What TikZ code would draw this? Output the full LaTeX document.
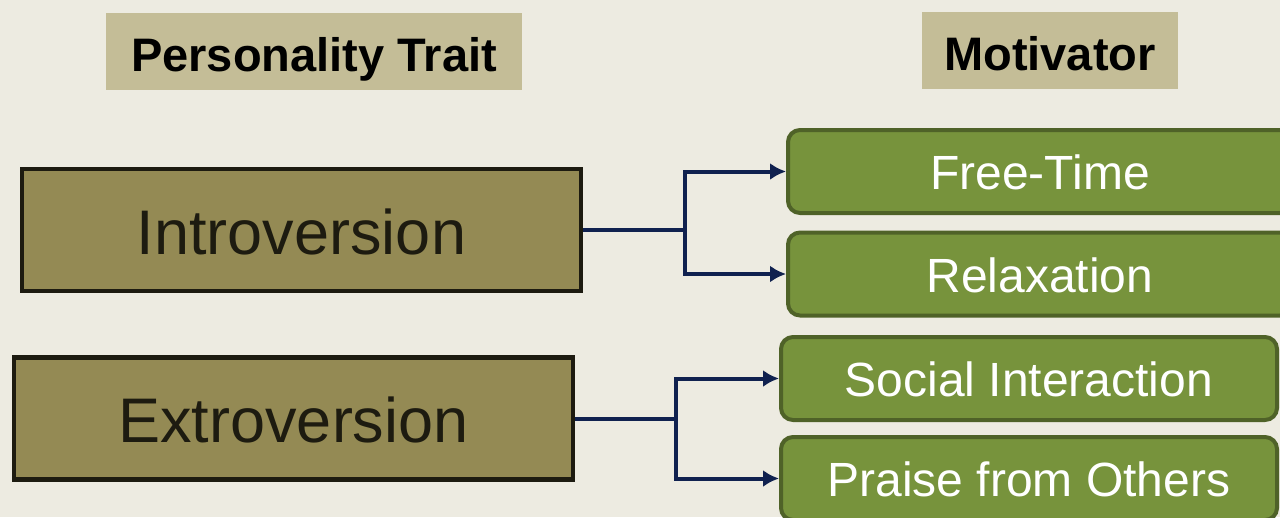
\documentclass[tikz,border=0pt]{standalone}
\usepackage{fontspec}
\setmainfont{Liberation Sans}
\usetikzlibrary{arrows.meta,positioning}

\definecolor{paper}{HTML}{EDEBE1}
\definecolor{headfill}{HTML}{C4BD97}
\definecolor{traitfill}{HTML}{948A54}
\definecolor{traitline}{HTML}{1D1B10}
\definecolor{motfill}{HTML}{77933C}
\definecolor{motline}{HTML}{4F6228}
\definecolor{arrowcol}{HTML}{10214F}

\begin{document}
\begin{tikzpicture}[x=1pt,y=-1pt,
            heading/.style={fill=headfill,inner sep=0,text height=39pt,text depth=0pt,minimum height=77,font=\fontsize{47}{50}\selectfont\bfseries},
            trait/.style={draw=traitline,fill=traitfill,text=traitline,line width=4.5pt,minimum width=559,minimum height=122,inner sep=0,text height=50pt,text depth=2pt,font=\fontsize{63}{66}\selectfont},
            motive/.style={draw=motline,fill=motfill,text=white,line width=4pt,rounded corners=12pt,minimum height=83,inner sep=0,text height=38pt,text depth=2pt,font=\fontsize{48}{50}\selectfont},
            link/.style={draw=arrowcol,line width=4pt,-{Latex[length=16pt,width=17pt]}}
          ]
          \useasboundingbox (0,0) rectangle (1280,517);
          \clip (0,0) rectangle (1280,517);
          \fill[paper] (0,0) rectangle (1280,517);

          %headings
          \node[heading,minimum width=416] (traithead) at (314,51.5) {Personality Trait};
          \node[heading,minimum width=256] (motivehead) at (1050,50.5) {Motivator};

          %traits
          \node[trait] (intro) at (301.5,230) {Introversion};
          \node[trait] (extro) at (293.5,418.5) {Extroversion};

          %motivators
          \node[motive,minimum width=504] (freetime) at (1040,171.5) {Free-Time};
          \node[motive,minimum width=504] (relax) at (1040,274) {Relaxation};
          \node[motive,minimum width=496] (social) at (1029,378.5) {Social Interaction};
          \node[motive,minimum width=496] (praise) at (1029,478.5) {Praise from Others};

          %links
          \coordinate (introsplit) at (685,230);
          \coordinate (extrosplit) at (676,418.5);
          \draw[link,-] (intro.east) -- (introsplit);
          \draw[link] (introsplit) |- (freetime.west);
          \draw[link] (introsplit) |- (relax.west);
          \draw[link,-] (extro.east) -- (extrosplit);
          \draw[link] (extrosplit) |- (social.west);
          \draw[link] (extrosplit) |- (praise.west);
      \end{tikzpicture}
\end{document}
